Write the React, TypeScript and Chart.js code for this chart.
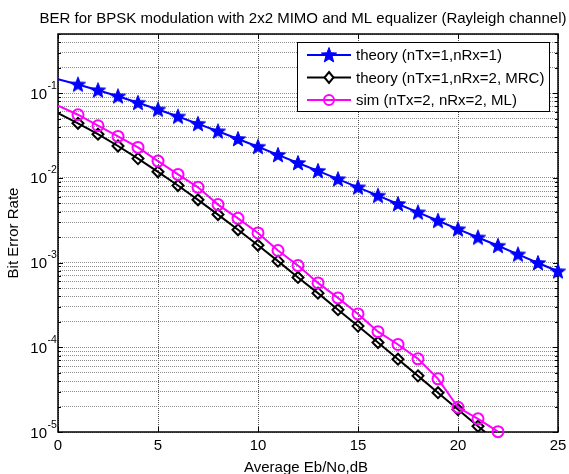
import React, { useEffect, useRef } from "react";
import { Chart, registerables } from "chart.js";

Chart.register(...registerables);

// Eb/No axis (dB)
const snrDb = [0, 1, 2, 3, 4, 5, 6, 7, 8, 9, 10, 11, 12, 13, 14, 15, 16, 17, 18, 19, 20, 21, 22, 23, 24, 25];

// single receive antenna, theory
const berTheoryRx1 = [
  0.1464, 0.1267, 0.1085, 0.0919, 0.0771, 0.0642, 0.053, 0.0435, 0.0355, 0.0288,
  0.0233, 0.0187, 0.015, 0.0121, 0.00966, 0.00773, 0.00617, 0.00492, 0.00392, 0.00312,
  0.00248, 0.00198, 0.00158, 0.00125, 0.00099, 0.00079,
];

// two receive antennas with MRC, theory
const berTheoryMrc = [
  0.058, 0.0441, 0.0328, 0.0238, 0.0169, 0.0118, 0.00813, 0.00551, 0.00369, 0.00244,
  0.0016, 0.00104, 0.000668, 0.000436, 0.000278, 0.000178, 0.000114, 7.24e-5, 4.6e-5, 2.91e-5,
  1.84e-5, 1.17e-5, 7.48e-6, 4.68e-6, 2.94e-6, 1.87e-6,
];

// 2x2 MIMO with ML equalizer, simulated (no errors counted beyond 22 dB)
const berSimMl = [
  0.0712, 0.0557, 0.0413, 0.0309, 0.0229, 0.0158, 0.011, 0.00774, 0.00484, 0.00333,
  0.00224, 0.00139, 0.000922, 0.000576, 0.000383, 0.000248, 0.000153, 0.000108, 7.31e-5, 4.24e-5,
  1.96e-5, 1.43e-5, 1.01e-5,
];

const seriesLabels = [
  "theory (nTx=1,nRx=1)",
  "theory (nTx=1,nRx=2, MRC)",
  "sim (nTx=2, nRx=2, ML)",
];
const seriesColors = ["#0000ff", "#000000", "#ff00ff"];

const titleText = "BER for BPSK modulation with 2x2 MIMO and ML equalizer (Rayleigh channel)";
const xTitle = "Average Eb/No,dB";
const yTitle = "Bit Error Rate";

const xTicks = [0, 5, 10, 15, 20, 25];
const decadeExps = [-5, -4, -3, -2, -1];
const minorMultipliers = [1, 2, 3, 4, 5, 6, 7, 8, 9];
const yMin = 1e-5;
const yMax = 0.5;

const FONT = '"Liberation Sans", Arial, Helvetica, sans-serif';

function makeStar(color: string): HTMLCanvasElement {
  const c = document.createElement("canvas");
  c.width = 20;
  c.height = 20;
  const g = c.getContext("2d")!;
  const cx = 10, cy = 10.5, R = 8, r = 3.4;
  g.beginPath();
  for (let i = 0; i < 10; i++) {
    const a = -Math.PI / 2 + (i * Math.PI) / 5;
    const rad = i % 2 === 0 ? R : r;
    const px = cx + rad * Math.cos(a);
    const py = cy + rad * Math.sin(a);
    if (i === 0) g.moveTo(px, py);
    else g.lineTo(px, py);
  }
  g.closePath();
  g.fillStyle = color;
  g.fill();
  g.lineJoin = "miter";
  g.lineWidth = 1;
  g.strokeStyle = color;
  g.stroke();
  return c;
}

function buildYTicks() {
  const ticks: { value: number }[] = [];
  for (const e of decadeExps) {
    for (const m of minorMultipliers) ticks.push({ value: m * Math.pow(10, e) });
  }
  for (const m of [1, 2, 3, 4, 5]) {
    const v = m * 0.1;
    if (v <= yMax && !ticks.some((t) => Math.abs(t.value - v) < 1e-12)) ticks.push({ value: v });
  }
  return ticks.filter((t) => t.value >= yMin * 0.999 && t.value <= yMax * 1.001);
}

export default function App() {
  const canvasRef = useRef<HTMLCanvasElement | null>(null);

  useEffect(() => {
    const canvas = canvasRef.current;
    if (!canvas) return;
    const star = makeStar(seriesColors[0]);

    const axesPlugin = {
      id: "matlabAxes",
      beforeDatasetsDraw(chart: any) {
        const { ctx, chartArea: a, scales } = chart;
        const xs = scales.x, ys = scales.y;
        ctx.save();
        ctx.strokeStyle = "#000";
        ctx.lineWidth = 1;
        // tick marks, inward on all four sides
        ctx.beginPath();
        for (const v of xTicks) {
          const px = Math.round(xs.getPixelForValue(v)) + 0.5;
          ctx.moveTo(px, a.bottom);
          ctx.lineTo(px, a.bottom - 5);
          ctx.moveTo(px, a.top);
          ctx.lineTo(px, a.top + 5);
        }
        for (const t of ys.ticks) {
          const py = Math.round(ys.getPixelForValue(t.value)) + 0.5;
          const isMajor = Math.abs(Math.log10(t.value) - Math.round(Math.log10(t.value))) < 1e-9;
          const len = isMajor ? 5 : 3;
          ctx.moveTo(a.left, py);
          ctx.lineTo(a.left + len, py);
          ctx.moveTo(a.right, py);
          ctx.lineTo(a.right - len, py);
        }
        ctx.stroke();
        // axes box
        ctx.lineWidth = 1.5;
        ctx.strokeRect(a.left, a.top, a.right - a.left, a.bottom - a.top);
        ctx.restore();
      },
      afterDatasetsDraw(chart: any) {
        const { ctx, chartArea: a, scales } = chart;
        const xs = scales.x, ys = scales.y;
        ctx.save();
        ctx.fillStyle = "#000";

        // title
        ctx.font = `15px ${FONT}`;
        ctx.textAlign = "center";
        ctx.textBaseline = "alphabetic";
        ctx.fillText(titleText, (a.left + a.right) / 2 - 5, 23);

        // x tick labels
        for (const v of xTicks) {
          ctx.fillText(String(v), xs.getPixelForValue(v), 450);
        }
        // x title
        ctx.fillText(xTitle, (a.left + a.right) / 2 - 2, 472);

        // y title
        ctx.save();
        ctx.translate(17.5, (a.top + a.bottom) / 2);
        ctx.rotate(-Math.PI / 2);
        ctx.fillText(yTitle, 0, 0);
        ctx.restore();

        // y decade labels 10^e
        for (const e of decadeExps) {
          const py = ys.getPixelForValue(Math.pow(10, e));
          ctx.font = `15px ${FONT}`;
          ctx.textAlign = "right";
          ctx.fillText("10", 47, py + 5.5);
          ctx.font = `10.5px ${FONT}`;
          ctx.textAlign = "left";
          ctx.fillText(String(e), 47.5, py - 4.5);
        }

        // legend
        const lx = 297, ly = 42, lw = 252, lh = 69;
        ctx.fillStyle = "#fff";
        ctx.fillRect(lx, ly, lw, lh);
        ctx.strokeStyle = "#000";
        ctx.lineWidth = 1;
        ctx.strokeRect(lx + 0.5, ly + 0.5, lw, lh);
        const rows = [55, 77.5, 100];
        rows.forEach((ry, i) => {
          const color = seriesColors[i];
          ctx.strokeStyle = color;
          ctx.lineWidth = 2;
          ctx.beginPath();
          ctx.moveTo(307, ry);
          ctx.lineTo(351, ry);
          ctx.stroke();
          const mx = 329;
          if (i === 0) {
            ctx.drawImage(star, mx - star.width / 2, ry - star.height / 2);
          } else if (i === 1) {
            ctx.beginPath();
            ctx.moveTo(mx, ry - 5.5);
            ctx.lineTo(mx + 4.5, ry);
            ctx.lineTo(mx, ry + 5.5);
            ctx.lineTo(mx - 4.5, ry);
            ctx.closePath();
            ctx.fillStyle = "#fff";
            ctx.fill();
            ctx.stroke();
          } else {
            ctx.beginPath();
            ctx.arc(mx, ry, 5, 0, Math.PI * 2);
            ctx.stroke();
          }
          ctx.fillStyle = "#000";
          ctx.font = `15px ${FONT}`;
          ctx.textAlign = "left";
          ctx.textBaseline = "middle";
          ctx.fillText(seriesLabels[i], 356, ry + 1);
          ctx.textBaseline = "alphabetic";
        });
        ctx.restore();
      },
    };

    const toPoints = (ys: number[]) => ys.map((y, i) => ({ x: snrDb[i], y }));

    const chart = new Chart(canvas, {
      type: "line",
      data: {
        datasets: [
          {
            label: seriesLabels[0],
            data: toPoints(berTheoryRx1),
            borderColor: seriesColors[0],
            backgroundColor: seriesColors[0],
            borderWidth: 2,
            pointStyle: star as any,
            pointRadius: (c: any) => (c.dataIndex === 0 ? 0 : 7),
            pointHoverRadius: (c: any) => (c.dataIndex === 0 ? 0 : 7),
            tension: 0,
            order: 2,
            clip: { left: 0, top: 0, right: 12, bottom: 0 } as any,
          },
          {
            label: seriesLabels[1],
            data: toPoints(berTheoryMrc),
            borderColor: seriesColors[1],
            backgroundColor: "rgba(0,0,0,0)",
            borderWidth: 2,
            pointStyle: "rectRot",
            pointRadius: (c: any) => (c.dataIndex === 0 ? 0 : 5.5),
            pointHoverRadius: (c: any) => (c.dataIndex === 0 ? 0 : 5.5),
            pointBorderWidth: 2,
            pointBorderColor: seriesColors[1],
            pointBackgroundColor: "rgba(0,0,0,0)",
            tension: 0,
            order: 1,
            clip: { left: 0, top: 0, right: 0, bottom: 0 } as any,
          },
          {
            label: seriesLabels[2],
            data: toPoints(berSimMl),
            borderColor: seriesColors[2],
            backgroundColor: "rgba(0,0,0,0)",
            borderWidth: 2,
            pointStyle: "circle",
            pointRadius: (c: any) => (c.dataIndex === 0 ? 0 : 5.5),
            pointHoverRadius: (c: any) => (c.dataIndex === 0 ? 0 : 5.5),
            pointBorderWidth: 2,
            pointBorderColor: seriesColors[2],
            pointBackgroundColor: "rgba(0,0,0,0)",
            tension: 0,
            order: 0,
            clip: { left: 0, top: 0, right: 0, bottom: 10 } as any,
          },
        ],
      },
      options: {
        responsive: false,
        animation: false,
        events: [],
        layout: { padding: { left: 58, right: 11, top: 34, bottom: 42 } },
        plugins: {
          legend: { display: false },
          title: { display: false },
          tooltip: { enabled: false },
        },
        scales: {
          x: {
            type: "linear",
            min: 0,
            max: 25,
            afterBuildTicks: (s: any) => {
              s.ticks = xTicks.map((v) => ({ value: v }));
            },
            afterFit: (s: any) => {
              s.height = 0;
            },
            ticks: { display: false },
            grid: { color: "#4a4a4a", lineWidth: 1, drawTicks: false },
            border: { display: false, dash: [1, 1] },
          },
          y: {
            type: "logarithmic",
            min: yMin,
            max: yMax,
            afterBuildTicks: (s: any) => {
              s.ticks = buildYTicks();
            },
            afterFit: (s: any) => {
              s.width = 0;
            },
            ticks: { display: false },
            grid: { color: "#8c8c8c", lineWidth: 1, drawTicks: false },
            border: { display: false, dash: [1, 1] },
          },
        },
      },
      plugins: [axesPlugin],
    });

    return () => chart.destroy();
  }, []);

  return (
    <div style={{ position: "absolute", left: 0, top: 0, width: 569, height: 474, background: "#fff" }}>
      <canvas ref={canvasRef} width={569} height={474} style={{ display: "block" }} />
    </div>
  );
}
